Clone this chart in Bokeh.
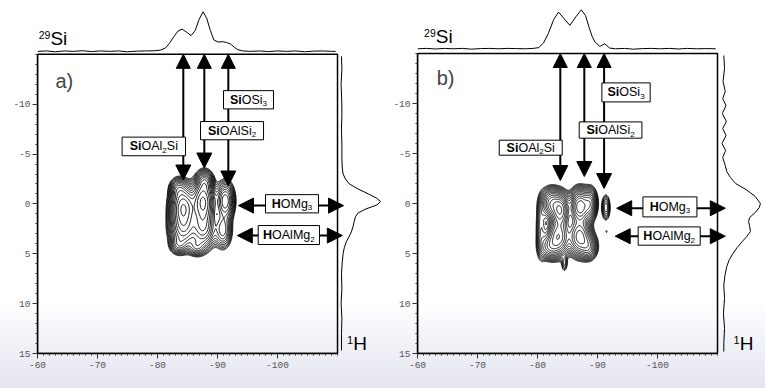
import numpy as np
from bokeh.plotting import figure
from bokeh.layouts import row
from bokeh.models import Range1d, FixedTicker, Label, Arrow, NormalHead, BoxAnnotation
from bokeh.embed import file_html
from bokeh.resources import INLINE

# ---------------- data ----------------
si_ticks = [-60, -70, -80, -90, -100]
si_tick_labels = ["-60", "-70", "-80", "-90", "-100"]
h_ticks = [-10, -5, 0, 5, 10, 15]
h_tick_labels = ["-10", "-5", "0", "5", "10", "15"]
si_minor = list(range(-110, -59))
h_minor = list(range(-15, 16))

# 29Si projections (ppm, relative intensity)
si_top_a = [-60, -61.5, -63, -64.5, -66, -67.5, -69, -70.5, -72, -73.5, -75, -76.5, -78, -79.5,
            -80.5, -81.3, -82.0, -82.7, -83.4, -84.1, -84.8, -85.6, -86.3, -86.9, -87.6, -88.2,
            -88.8, -89.4, -90.1, -90.8, -91.5, -92.2, -92.8, -93.4, -94.2, -95.5, -97, -98.5,
            -100, -101.5, -103, -104.5, -106, -107.5, -109, -109.7]
int_top_a = [0.0, 0.01, -0.01, 0.01, 0.0, 0.015, -0.005, 0.01, 0.0, 0.01, -0.01, 0.005, 0.01, 0.015,
             0.03, 0.08, 0.2, 0.36, 0.5, 0.55, 0.48, 0.39, 0.52, 0.78, 0.98, 0.82,
             0.52, 0.28, 0.23, 0.24, 0.22, 0.18, 0.1, 0.04, 0.01, 0.0, 0.01, -0.005,
             0.01, 0.0, 0.01, -0.01, 0.005, 0.01, 0.0, 0.0]
si_top_b = [-60, -61.5, -63, -64.5, -66, -67.5, -69, -70.5, -72, -73.5, -75, -76.5, -78, -79.3,
            -80.2, -81.0, -81.8, -82.7, -83.5, -84.4, -85.4, -86.4, -87.3, -88.0, -88.6, -89.1,
            -89.6, -90.4, -91.2, -92.0, -93, -94.5, -96, -97.5, -99, -100.5, -102, -103.5,
            -105, -106.5, -108, -109.7]
int_top_b = [0.0, 0.01, -0.005, 0.01, 0.0, 0.01, -0.01, 0.005, 0.01, 0.0, 0.01, 0.005, 0.0, 0.01,
             0.03, 0.15, 0.39, 0.75, 0.94, 0.78, 0.6, 0.82, 1.0, 0.85, 0.55, 0.32,
             0.17, 0.06, 0.13, 0.02, 0.0, 0.01, -0.01, 0.005, 0.01, 0.0, 0.01, -0.005,
             0.01, 0.0, 0.005, 0.0]

# 1H projections (ppm, relative intensity)
h_right_a = [-14.8, -13.5, -12, -10.5, -9, -7.5, -6, -4.5, -3.6, -3.0, -2.5, -2.0, -1.5, -1.0,
             -0.6, -0.25, 0.1, 0.5, 0.9, 1.3, 1.8, 2.3, 2.8, 3.3, 3.8, 4.4, 5.0, 5.8, 7.0,
             8.5, 10, 11.5, 13, 14.7]
int_right_a = [0.0, 0.01, -0.01, 0.005, 0.01, 0.0, 0.01, 0.01, 0.02, 0.04, 0.1, 0.2, 0.42, 0.68,
               0.88, 0.99, 0.9, 0.62, 0.42, 0.35, 0.32, 0.29, 0.25, 0.19, 0.12, 0.07, 0.04, 0.02, 0.0,
               0.01, -0.01, 0.01, 0.0, 0.0]
h_right_b = [-14.8, -13.5, -12.2, -11.2, -10.5, -9.8, -9.0, -8.2, -7.5, -6.8, -6.0, -5.3, -4.6,
             -3.8, -3.2, -2.6, -2.0, -1.4, -0.7, 0.0, 0.4, 0.9, 1.4, 1.8, 2.3, 2.8, 3.3, 3.8,
             4.4, 5.0, 5.6, 6.3, 7.2, 8.2, 9.5, 11, 12.5, 14, 14.8]
int_right_b = [0.0, 0.02, -0.02, 0.04, -0.03, 0.06, -0.04, 0.07, -0.03, 0.06, -0.05, 0.05, -0.03,
               0.04, 0.08, 0.18, 0.32, 0.6, 0.85, 0.99, 0.96, 0.85, 0.7, 0.67, 0.7, 0.72, 0.62, 0.5,
               0.36, 0.25, 0.15, 0.08, 0.03, 0.0, 0.02, -0.01, 0.02, 0.0, 0.0]

# 2D correlation peaks (29Si ppm, 1H ppm, amplitude, widths)
pk_si_a = [-84.3, -87.6, -91.3, -84.3, -87.6, -90.9, -87.9, -83.5, -83.5, -86.5]
pk_h_a = [0.3, -0.2, -0.3, 2.4, 2.4, 2.6, -2.2, -1.5, 4.1, 4.3]
pk_amp_a = [1.0, 1.1, 0.5, 0.6, 0.6, 0.3, 0.35, 0.25, 0.2, 0.2]
pk_wsi_a = [1.1, 1.0, 0.8, 1.2, 1.1, 0.8, 0.7, 0.8, 0.8, 0.8]
pk_wh_a = [1.1, 1.2, 1.0, 1.1, 1.1, 1.0, 0.6, 0.6, 0.5, 0.5]

pk_si_b = [-82.3, -83.8, -87.1, -88.8, -83.5, -87.0, -82.0, -88.5, -80.6, -91.4, -91.5, -84.5]
pk_h_b = [0.0, 0.7, 0.3, 0.0, 3.3, 3.3, 4.3, 4.3, 2.5, 0.4, 2.8, 6.0]
pk_amp_b = [0.6, 1.0, 1.0, 0.5, 0.8, 0.75, 0.35, 0.35, 0.15, 0.2, 0.05, 0.1]
pk_wsi_b = [0.9, 0.8, 0.9, 0.6, 1.0, 1.0, 0.9, 0.8, 0.5, 0.4, 0.15, 0.3]
pk_wh_b = [0.8, 0.9, 0.9, 0.8, 1.0, 1.0, 0.7, 0.7, 1.8, 0.7, 0.15, 0.5]

# assignments: 29Si sites (arrow positions) and 1H sites
site_si_a = [-84.3, -87.8, -91.8]
site_tip_h_a = [-2.4, -3.6, -1.8]
site_si_b = [-83.8, -87.8, -91.1]
site_tip_h_b = [-2.3, -2.7, -1.5]
oh_h_a = [0.17, 3.17]
oh_h_b = [0.47, 3.27]

FONT = "Liberation Sans"
MONO = "Liberation Mono"

AW = {('S', 0): 667, ('i', 0): 222, ('O', 0): 778, ('A', 0): 667, ('l', 0): 222, ('M', 0): 833,
      ('g', 0): 556, ('H', 0): 722, ('S', 1): 667, ('i', 1): 278, ('H', 1): 722}


def tw(s, size, bold):
    return sum(AW.get((c, bold), 556) for c in s) * size / 1000.0


def rich(p, x, y, pieces, center=False):
    widths = [tw(t, s, b) for t, s, b, dy in pieces]
    off = -sum(widths) / 2.0 if center else 0.0
    for (t, s, b, dy), w in zip(pieces, widths):
        p.add_layout(Label(x=x, y=y, text=t, x_offset=off, y_offset=dy, text_font=FONT,
                           text_font_size=f"{s}px", text_font_style="bold" if b else "normal",
                           text_baseline="middle", text_align="left", text_color="black"))
        off += w


def make_panel(width, border_left, border_bottom, xr, yr, ptop, pright):
    p = figure(width=width, height=388, x_range=Range1d(*xr), y_range=Range1d(*yr),
               output_backend="svg", toolbar_location=None,
               min_border_left=border_left, min_border_right=0, min_border_top=0,
               min_border_bottom=border_bottom,
               background_fill_color=None, border_fill_color=None, outline_line_color=None)
    p.extra_y_ranges = {"ptop": Range1d(*ptop)}
    p.extra_x_ranges = {"pright": Range1d(*pright)}
    p.xgrid.grid_line_color = None
    p.ygrid.grid_line_color = None
    for ax, ticks, labels, minor, bounds in (
            (p.xaxis[0], si_ticks, si_tick_labels, si_minor, (-110, -60)),
            (p.yaxis[0], h_ticks, h_tick_labels, h_minor, (-15, 15))):
        ax.ticker = FixedTicker(ticks=ticks, minor_ticks=minor)
        ax.major_label_overrides = {t: l for t, l in zip(ticks, labels)}
        ax.bounds = bounds
        ax.axis_line_width = 1.5
        ax.axis_line_color = "black"
        ax.major_tick_in = 0
        ax.major_tick_out = 5
        ax.minor_tick_in = 0
        ax.minor_tick_out = 2
        ax.major_tick_line_color = "#333333"
        ax.minor_tick_line_color = "#333333"
        ax.major_label_text_font = MONO
        ax.major_label_text_font_size = "9.5px"
        ax.major_label_text_color = "#555555"
    p.xaxis.major_label_standoff = 3
    p.yaxis.major_label_standoff = 2
    return p


def decorate(p, name, proj, pk, sites, tips, oh_h, boxes, harrow, labels):
    si_t, in_t, h_r, in_r = proj
    # frame box
    p.add_layout(BoxAnnotation(left=-60, right=-110, top=-15, bottom=15, fill_color=None,
                               line_color="black", line_alpha=1.0, line_width=1.5))
    # projections
    p.line(si_t, in_t, y_range_name="ptop", line_color="black", line_width=1)
    p.line(in_r, h_r, x_range_name="pright", line_color="black", line_width=1)
    # 2D contour
    psi, ph, pa_, pws, pwh = pk
    sg = np.linspace(-77, -97, 201)
    hg = np.linspace(-7, 10, 171)
    S, Hh = np.meshgrid(sg, hg)
    Z = np.zeros_like(S)
    for s0, h0, a0, ws, wh in zip(psi, ph, pa_, pws, pwh):
        Z += a0 * np.exp(-((S - s0) ** 2 / (2 * ws ** 2) + (Hh - h0) ** 2 / (2 * wh ** 2)))
    levels = np.geomspace(0.04, 1.05, 15)
    p.contour(sg, hg, Z, levels, line_color="black", line_width=0.9)
    # vertical arrows (29Si sites)
    for x, t in zip(sites, tips):
        p.add_layout(Arrow(start=NormalHead(size=14, line_width=1), end=NormalHead(size=15, line_width=1),
                           x_start=x, y_start=-15, x_end=x, y_end=t, line_width=2, line_color="black"))
    # horizontal arrows (1H sites)
    for h, (x0, x1) in zip(oh_h, harrow):
        p.add_layout(Arrow(start=NormalHead(size=15, line_width=1), end=NormalHead(size=15, line_width=1),
                           x_start=x0, y_start=h, x_end=x1, y_end=h, line_width=2, line_color="black"))
    # boxes with labels
    for (l, r, t, b), pieces in boxes:
        p.add_layout(BoxAnnotation(left=l, right=r, top=t, bottom=b, fill_color="white", fill_alpha=1.0,
                                   line_color="black", line_alpha=1.0, line_width=1))
        rich(p, (l + r) / 2.0, (t + b) / 2.0, pieces, center=True)
    # other texts
    (px_, py_), (sx, sy), (hx, hy), (ppx, ppy), (ppx2, ppy2) = labels
    p.add_layout(Label(x=px_, y=py_, text=name, text_font=FONT, text_font_size="20px",
                       text_baseline="middle", text_align="left"))
    rich(p, sx, sy, [("29", 10.5, 0, 3), ("Si", 19, 0, 0)])
    rich(p, hx, hy, [("1", 11, 0, 4), ("H", 19, 0, 0)])
    p.add_layout(Label(x=ppx, y=ppy, text="ppm", text_font=MONO, text_font_size="9.5px",
                       text_color="#555555", text_baseline="middle", text_align="right"))
    p.add_layout(Label(x=ppx2, y=ppy2, text="ppm", text_font=MONO, text_font_size="9.5px",
                       text_color="#555555", text_baseline="middle", text_align="left"))


P_SiOSi3 = [("Si", 12.5, 1, 0), ("OSi", 12.5, 0, 0), ("3", 8, 0, -4)]
P_SiOAlSi2 = [("Si", 12.5, 1, 0), ("OAlSi", 12.5, 0, 0), ("2", 8, 0, -4)]
P_SiOAl2Si = [("Si", 12.5, 1, 0), ("OAl", 12.5, 0, 0), ("2", 8, 0, -4), ("Si", 12.5, 0, 0)]
P_HOMg3 = [("H", 12.5, 1, 0), ("OMg", 12.5, 0, 0), ("3", 8, 0, -4)]
P_HOAlMg2 = [("H", 12.5, 1, 0), ("OAlMg", 12.5, 0, 0), ("2", 8, 0, -4)]

pa = make_panel(384, 37, 34, (-60, -117.83), (15, -20.4), (-7.481, 1.259), (-7.696, 1.0886))
decorate(pa, "a)", (si_top_a, int_top_a, h_right_a, int_right_a),
         (pk_si_a, pk_h_a, pk_amp_a, pk_wsi_a, pk_wh_a), site_si_a, site_tip_h_a, oh_h_a,
         [((-91.0, -99.33, -11.36, -9.53), P_SiOSi3),
          ((-87.17, -97.67, -8.26, -6.43), P_SiOAlSi2),
          ((-74.1, -84.67, -6.7, -4.83), P_SiOAl2Si),
          ((-98.0, -106.83, -0.93, 0.9), P_HOMg3),
          ((-96.78, -107.0, 2.17, 4.07), P_HOAlMg2)],
         [(-93.5, -111.0), (-93.3, -110.8)],
         [(-63.0, -12.33), (-60.2, -16.63), (-111.6, 14.02), (-59.0, -15.63), (-110.83, 16.17)])

pb = make_panel(381, 33, 35, (-60, -118.0), (15, -20.3), (-7.813, 1.238), (-8.278, 1.127))
decorate(pb, "b)", (si_top_b, int_top_b, h_right_b, int_right_b),
         (pk_si_b, pk_h_b, pk_amp_b, pk_wsi_b, pk_wh_b), site_si_b, site_tip_h_b, oh_h_b,
         [((-90.73, -98.78, -12.06, -10.16), P_SiOSi3),
          ((-86.95, -97.4, -8.16, -6.53), P_SiOAlSi2),
          ((-73.62, -84.12, -6.33, -4.83), P_SiOAl2Si),
          ((-97.57, -106.57, -0.66, 1.34), P_HOMg3),
          ((-96.78, -107.12, 2.34, 4.17), P_HOAlMg2)],
         [(-93.2, -111.3), (-92.95, -111.3)],
         [(-63.2, -12.58), (-61.1, -16.73), (-112.67, 14.0), (-58.78, -15.53), (-110.73, 16.27)])

layout = row(pa, pb)
html = file_html(layout, INLINE)
style = ("<style>html{height:100%;background:linear-gradient(to bottom,#ffffff 0px,#ffffff 300px,"
         "#e3e5f0 388px) no-repeat;}body{background:transparent;}</style>")
html = html.replace("</head>", style + "</head>", 1)
open("out.html", "w").write(html)
